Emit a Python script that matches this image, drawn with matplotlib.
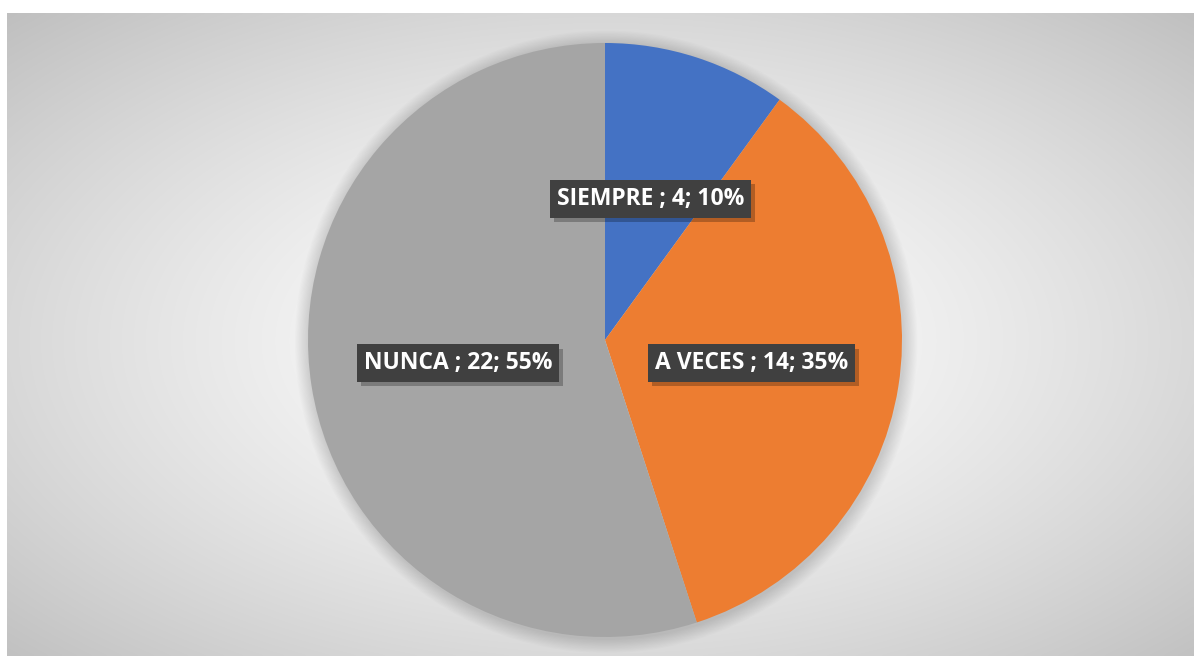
import numpy as np
import matplotlib
matplotlib.use("Agg")
import matplotlib.pyplot as plt
import matplotlib.patheffects as pe
from matplotlib.patches import Circle

categories = ["SIEMPRE", "A VECES", "NUNCA"]
values = [4, 14, 22]
percents = [10, 35, 55]
colors = ["#4472C4", "#ED7D31", "#A5A5A5"]

W, H = 1194, 656
fig = plt.figure(figsize=(W / 100, H / 100), dpi=100)
fig.patch.set_facecolor("white")

# background panel with radial gradient
bx0, by_top = 7, 13
bg = fig.add_axes([bx0 / W, 0, 1 - bx0 / W, 1 - by_top / H])
bg.set_axis_off()
ny, nx = 300, 600
yy, xx = np.mgrid[0:ny, 0:nx]
cx, cy = (605 - bx0) / (W - bx0) * nx, (340 - by_top) / (H - by_top) * ny
d = np.sqrt(((xx - cx) / nx) ** 2 + ((yy - cy) / ny) ** 2)
d = d / d.max()
d = np.clip(d, 0, 1)
val = 1.0 - 0.25 * d ** 1.4
img = np.dstack([val, val, val])
bg.imshow(img, extent=[0, 1, 0, 1], aspect="auto", interpolation="bicubic")
bg.set_xlim(0, 1)
bg.set_ylim(0, 1)

# pie
R = 297
cxp, cyp = 605, 340
ax = fig.add_axes([(cxp - R) / W, (H - cyp - R) / H, 2 * R / W, 2 * R / H])
ax.set_axis_off()
# soft shadow ring
for k in range(12, 0, -1):
    ax.add_patch(Circle((0.004, -0.006), 1.0 + k * 0.004, facecolor="black",
                        edgecolor="none", alpha=0.012, zorder=0, clip_on=False))
wedges, _ = ax.pie(values, colors=colors, startangle=90, counterclock=False,
                   radius=1.0, wedgeprops=dict(linewidth=0, zorder=1))
ax.set_xlim(-1, 1)
ax.set_ylim(-1, 1)
ax.set_aspect("auto")

total = sum(values)
start = 90
for cat, v, p in zip(categories, values, percents):
    ang = start - 360 * v / total / 2
    start -= 360 * v / total
    r = 0.5
    x, y = r * np.cos(np.radians(ang)), r * np.sin(np.radians(ang))
    label = f"{cat} ; {v}; {p}%"
    t = ax.text(x, y, label, ha="center", va="center",
                fontsize=16.5, fontweight="bold", color="white",
                family=["Open Sans", "DejaVu Sans"],
                bbox=dict(boxstyle="square,pad=0.3", facecolor="#404040", edgecolor="none"),
                zorder=4)
    t.get_bbox_patch().set_path_effects([
        pe.SimplePatchShadow(offset=(2.5, -3), shadow_rgbFace="black", alpha=0.25),
        pe.Normal()])

fig.savefig("out.png", dpi=100)
